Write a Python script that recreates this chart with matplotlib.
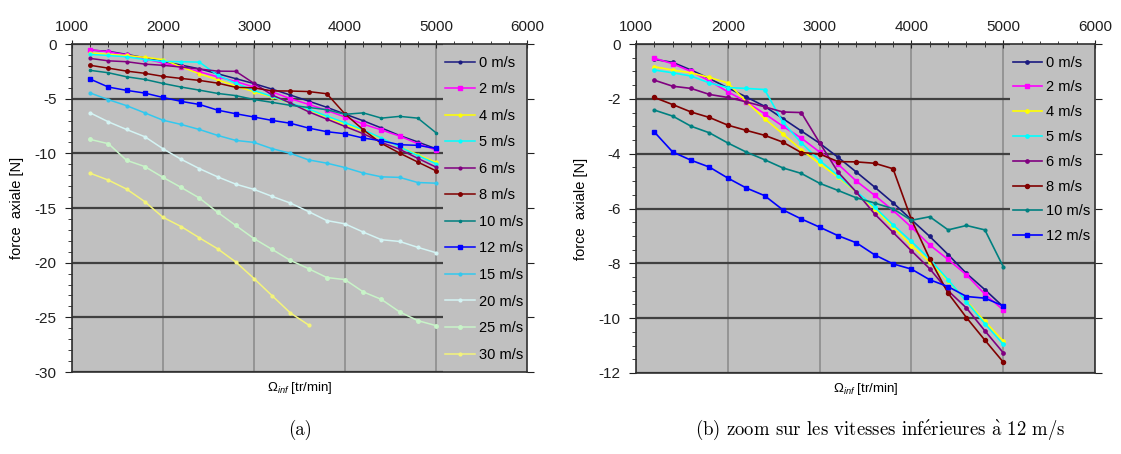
import numpy as np
import matplotlib
matplotlib.use("Agg")
import matplotlib.pyplot as plt
from matplotlib.patches import Rectangle
from matplotlib.ticker import MultipleLocator

plt.rcParams['font.family'] = ['Liberation Sans', 'DejaVu Sans']
plt.rcParams['axes.unicode_minus'] = False
plt.rcParams['mathtext.fontset'] = 'custom'
plt.rcParams['mathtext.rm'] = 'Liberation Sans'
plt.rcParams['mathtext.it'] = 'Liberation Sans:italic'

# ---------------- data ----------------
rpm = [1200, 1400, 1600, 1800, 2000, 2200, 2400, 2600, 2800, 3000,
       3200, 3400, 3600, 3800, 4000, 4200, 4400, 4600, 4800, 5000]
rpm_30 = rpm[:13]

labels = ['0 m/s', '2 m/s', '4 m/s', '5 m/s', '6 m/s', '8 m/s', '10 m/s',
          '12 m/s', '15 m/s', '20 m/s', '25 m/s', '30 m/s']

f_0 = [-0.56, -0.67, -0.95, -1.26, -1.60, -1.93, -2.27, -2.72, -3.17, -3.62,
       -4.13, -4.67, -5.22, -5.79, -6.41, -7.02, -7.68, -8.37, -8.96, -9.58]
f_2 = [-0.52, -0.72, -1.00, -1.35, -1.74, -2.11, -2.54, -3.00, -3.43, -3.94,
       -4.38, -5.00, -5.52, -6.07, -6.68, -7.33, -7.86, -8.42, -9.12, -9.70]
f_4 = [-0.83, -0.95, -1.05, -1.22, -1.42, -2.10, -2.72, -3.28, -3.85, -4.37,
       -4.85, -5.40, -6.01, -6.68, -7.35, -7.96, -8.64, -9.37, -10.12, -10.83]
f_5 = [-0.95, -1.05, -1.17, -1.42, -1.59, -1.62, -1.66, -2.85, -3.60, -4.25,
       -4.80, -5.38, -5.95, -6.60, -7.20, -7.85, -8.60, -9.40, -10.20, -10.95]
f_6 = [-1.32, -1.54, -1.62, -1.84, -1.95, -2.11, -2.29, -2.48, -2.50, -3.60,
       -4.67, -5.40, -6.20, -6.87, -7.54, -8.20, -9.00, -9.63, -10.46, -11.26]
f_8 = [-1.95, -2.21, -2.48, -2.68, -2.96, -3.15, -3.33, -3.58, -3.96, -4.01,
       -4.29, -4.30, -4.35, -4.55, -6.40, -7.84, -9.09, -9.98, -10.80, -11.60]
f_10 = [-2.41, -2.63, -3.00, -3.24, -3.61, -3.94, -4.22, -4.52, -4.72, -5.08,
        -5.34, -5.61, -5.80, -6.01, -6.43, -6.30, -6.78, -6.62, -6.78, -8.12]
f_12 = [-3.21, -3.94, -4.24, -4.49, -4.89, -5.25, -5.53, -6.05, -6.38, -6.68,
        -6.99, -7.25, -7.69, -8.02, -8.21, -8.60, -8.85, -9.21, -9.27, -9.55]
f_15 = [-4.48, -5.09, -5.64, -6.30, -6.97, -7.36, -7.82, -8.36, -8.82, -9.00,
        -9.58, -10.00, -10.60, -10.90, -11.30, -11.80, -12.15, -12.20, -12.67, -12.73]
f_20 = [-6.30, -7.12, -7.82, -8.48, -9.58, -10.55, -11.40, -12.15, -12.82, -13.30,
        -13.94, -14.55, -15.33, -16.15, -16.45, -17.20, -17.90, -18.06, -18.60, -19.09]
f_25 = [-8.73, -9.12, -10.64, -11.21, -12.20, -13.12, -14.09, -15.39, -16.60, -17.80,
        -18.79, -19.79, -20.55, -21.36, -21.55, -22.67, -23.36, -24.50, -25.30, -25.76]
f_30 = [-11.82, -12.45, -13.27, -14.42, -15.85, -16.70, -17.73, -18.73, -19.94,
        -21.45, -23.03, -24.60, -25.70]

series = [(rpm, f_0), (rpm, f_2), (rpm, f_4), (rpm, f_5), (rpm, f_6), (rpm, f_8),
          (rpm, f_10), (rpm, f_12), (rpm, f_15), (rpm, f_20), (rpm, f_25), (rpm_30, f_30)]

colors = ['#1a1a80', '#ff00ff', '#ffff00', '#00ffff', '#800080', '#800000',
          '#008080', '#0000ff', '#33c8ee', '#d4f4f4', '#c8f4c8', '#f4f47a']
markers = ['o', 's', 'o', 'o', 'o', 'o', 'o', 's', 'o', 'o', 'o', 'o']
msizes = [2.0, 3.0, 2.0, 2.0, 2.0, 2.5, 1.6, 2.5, 2.0, 2.0, 2.5, 2.0]

BG = '#c0c0c0'

fig = plt.figure(figsize=(11.21, 4.54), dpi=100)
axL = fig.add_axes([72 / 1121, 82 / 454, 455 / 1121, 328 / 454])
axR = fig.add_axes([636 / 1121, 81 / 454, 459 / 1121, 329 / 454])


def style(ax, ymin, ymajor, yminor):
    ax.set_facecolor(BG)
    ax.set_xlim(1000, 6000)
    ax.set_ylim(ymin, 0)
    ax.xaxis.set_major_locator(MultipleLocator(1000))
    ax.xaxis.set_minor_locator(MultipleLocator(200))
    ax.yaxis.set_major_locator(MultipleLocator(ymajor))
    ax.yaxis.set_minor_locator(MultipleLocator(yminor))
    ax.xaxis.tick_top()
    ax.xaxis.set_label_position('bottom')
    ax.tick_params(axis='x', which='both', top=True, bottom=False, direction='inout',
                   labelsize=11, colors='#202020', pad=4)
    ax.tick_params(axis='x', which='major', length=6)
    ax.tick_params(axis='x', which='minor', length=5)
    ax.tick_params(axis='y', which='both', left=True, direction='out', labelsize=11,
                   colors='#202020', pad=6)
    ax.tick_params(axis='y', which='major', length=5, right=True)
    ax.tick_params(axis='y', which='minor', length=3)
    ax.set_axisbelow(True)
    ax.grid(True, axis='y', which='major', color='#404040', lw=1.6)
    ax.grid(True, axis='x', which='major', color='#888888', lw=1.1)
    for s in ax.spines.values():
        s.set_color('#303030')
        s.set_linewidth(1.2)
    ax.set_xlabel(r'$\mathit{\Omega}_{inf}$ [tr/min]', fontsize=9.5, labelpad=6)
    ax.set_ylabel('force  axiale [N]', fontsize=10.5, labelpad=8)


style(axL, -30, 5, 1)
style(axR, -12, 2, 0.5)

for i, ((xs, ys), lab) in enumerate(zip(series, labels)):
    axL.plot(xs, ys, color=colors[i], marker=markers[i], ms=msizes[i], lw=1.1,
             label=lab, zorder=3)
for i, ((xs, ys), lab) in enumerate(zip(series[:8], labels[:8])):
    axR.plot(xs, ys, color=colors[i], marker=markers[i], ms=msizes[i] + 0.4, lw=1.2,
             label=lab, zorder=3)

# legend panels (cover gridlines like the original)
axL.add_patch(Rectangle((0.815, 0.0), 0.185, 1.0, transform=axL.transAxes,
                        facecolor=BG, edgecolor='none', zorder=1))
axR.add_patch(Rectangle((0.815, 0.40), 0.185, 0.60, transform=axR.transAxes,
                        facecolor=BG, edgecolor='none', zorder=1))

legL = axL.legend(loc='upper left', bbox_to_anchor=(0.795, 1.0), frameon=False,
                  fontsize=10.5, handlelength=2.0, handletextpad=0.3,
                  labelspacing=0.86, borderaxespad=0.5, borderpad=0.3)
legR = axR.legend(loc='upper left', bbox_to_anchor=(0.795, 1.0), frameon=False,
                  fontsize=10.5, handlelength=2.0, handletextpad=0.3,
                  labelspacing=0.74, borderaxespad=0.5, borderpad=0.3)

cap_kw = dict(ha='center', va='center', fontsize=13.5, family='cmr10',
              math_fontfamily='cm')
fig.text(300 / 1121, 1 - 430 / 454, '(a)', **cap_kw)
fig.text(880 / 1121, 1 - 430 / 454,
         r'(b) zoom sur les vitesses inf$\mathrm{\acute{e}}$rieures $\mathrm{\grave{a}}$ 12 m/s',
         **cap_kw)

fig.savefig('out.png', dpi=100, facecolor='white')
